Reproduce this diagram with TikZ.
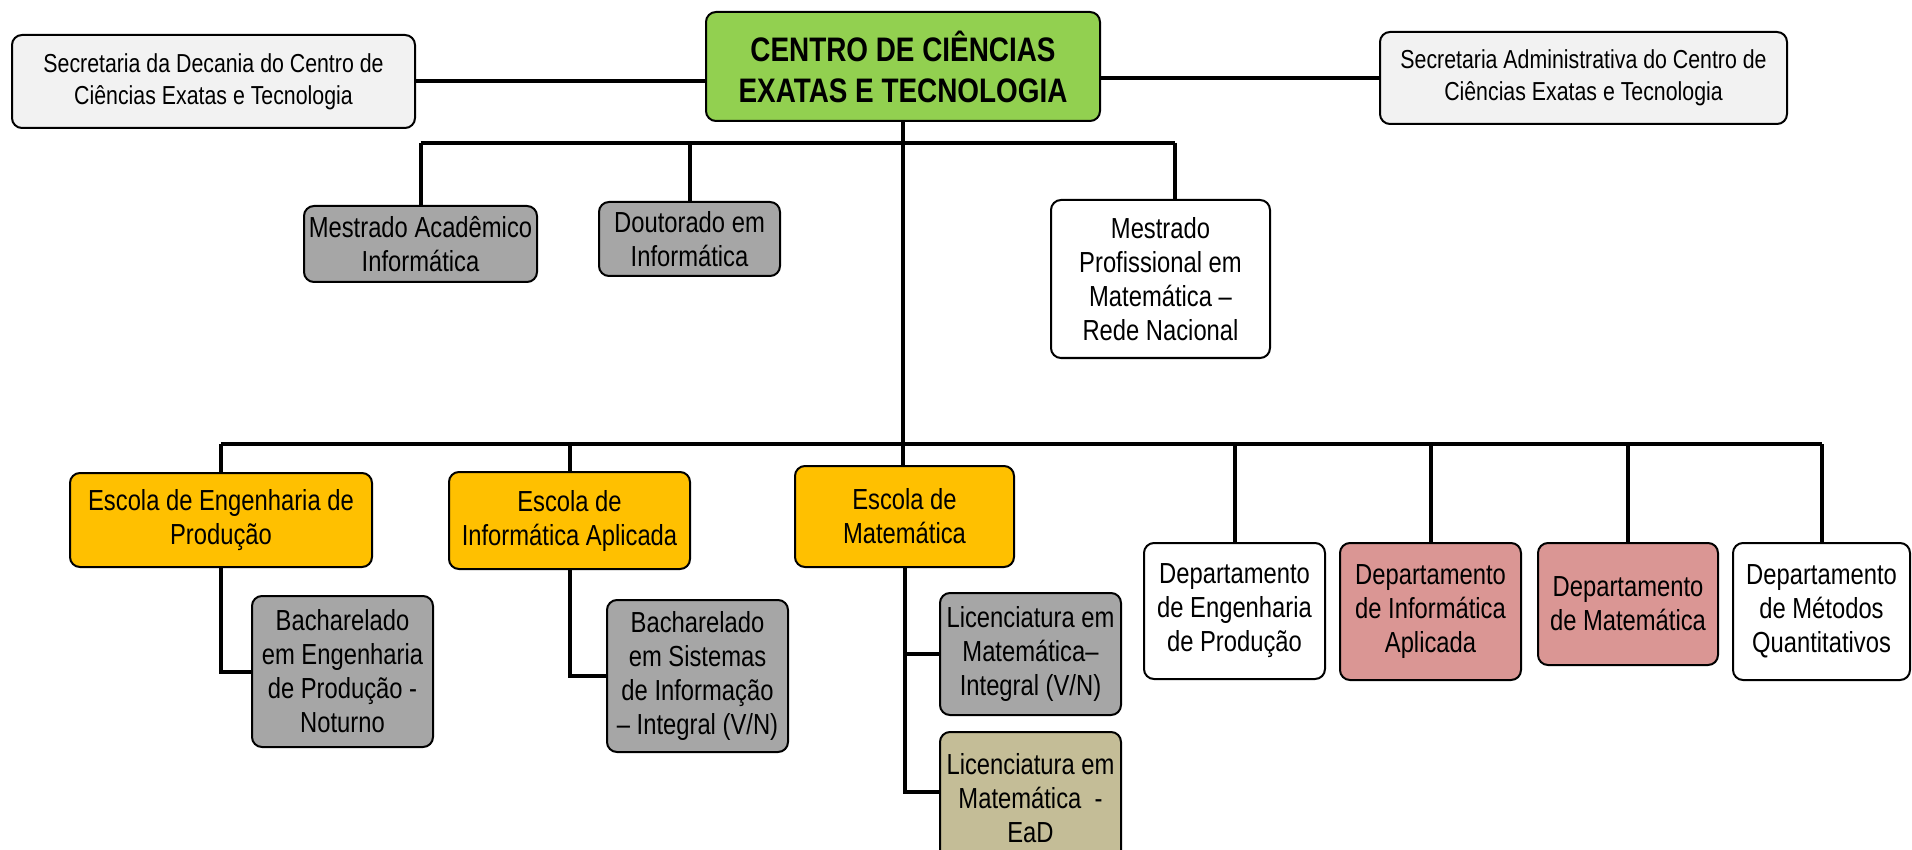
\documentclass[tikz,border=0pt]{standalone}
\usepackage{fontspec}
\setmainfont{Liberation Sans}[FakeStretch=0.82]
\definecolor{greenc}{HTML}{92D050}
\definecolor{goldc}{HTML}{FFC000}
\definecolor{grayc}{HTML}{A6A6A6}
\definecolor{lightc}{HTML}{F2F2F2}
\definecolor{pinkc}{HTML}{DA9694}
\definecolor{tanc}{HTML}{C4BD97}
\tikzset{
  box/.style={draw=black, line width=2pt, rounded corners=10pt, inner sep=0pt, align=center, text=black, font=\fontsize{29}{34}\selectfont},
  smallbox/.style={box, font=\fontsize{26}{32}\selectfont},
  conn/.style={line width=4pt, draw=black},
}
\begin{document}
\begin{tikzpicture}[x=1pt,y=-1pt]
\useasboundingbox (0,0) rectangle (1912,850);
\clip (0,0) rectangle (1912,850);
\fill[white] (0,0) rectangle (1912,850);
% top level
\node[smallbox, fill=lightc, minimum width=403pt, minimum height=93pt] (sec1) at (213.5,81.5) {Secretaria da Decania do Centro de\\Ciências Exatas e Tecnologia};
\node[box, fill=greenc, minimum width=394pt, minimum height=109pt, font=\fontsize{34}{41}\selectfont\bfseries] (ctr) at (903,66.5) {CENTRO DE CIÊNCIAS\\EXATAS E TECNOLOGIA};
\node[smallbox, fill=lightc, minimum width=407pt, minimum height=92pt] (sec2) at (1583.5,78) {Secretaria Administrativa do Centro de\\Ciências Exatas e Tecnologia};
% second level
\node[box, fill=grayc, minimum width=233pt, minimum height=76pt] (mac) at (420.5,244) {Mestrado Acadêmico\\Informática};
\node[box, fill=grayc, minimum width=181pt, minimum height=74pt] (dout) at (689.5,239) {Doutorado em\\Informática};
\node[box, fill=white, minimum width=219pt, minimum height=158pt] (mpro) at (1160.5,279) {Mestrado\\Profissional em\\Matemática –\\Rede Nacional};
% third level
\node[box, fill=goldc, minimum width=302pt, minimum height=94pt] (eep) at (221,520) {Escola de Engenharia de\\Produção};
\node[box, fill=grayc, minimum width=181pt, minimum height=151pt] (bep) at (342.5,671.5) {Bacharelado\\em Engenharia\\de Produção -\\Noturno};
\node[box, fill=goldc, minimum width=241pt, minimum height=97pt] (eia) at (569.5,520.5) {Escola de\\Informática Aplicada};
\node[box, fill=grayc, minimum width=181pt, minimum height=152pt] (bsi) at (697.5,676) {Bacharelado\\em Sistemas\\de Informação\\– Integral (V/N)};
\node[box, fill=goldc, minimum width=219pt, minimum height=101pt] (emat) at (904.5,516.5) {Escola de\\Matemática};
\node[box, fill=grayc, minimum width=181pt, minimum height=122pt] (lmi) at (1030.5,654) {Licenciatura em\\Matemática–\\Integral (V/N)};
\node[box, fill=tanc, minimum width=181pt, minimum height=132pt] (lmead) at (1030.5,798) {Licenciatura em\\Matemática~ -\\EaD};
\node[box, fill=white, minimum width=181pt, minimum height=136pt] (dep) at (1234.5,611) {Departamento\\de Engenharia\\de Produção};
\node[box, fill=pinkc, minimum width=181pt, minimum height=137pt] (dia) at (1430.5,611.5) {Departamento\\de Informática\\Aplicada};
\node[box, fill=pinkc, minimum width=180pt, minimum height=122pt] (dm) at (1628,604) {Departamento\\de Matemática};
\node[box, fill=white, minimum width=177pt, minimum height=137pt] (dmq) at (1821.5,611.5) {Departamento\\de Métodos\\Quantitativos};
% bus coordinates
\coordinate (busU) at (903,143);
\coordinate (mproTop) at (1175,143);
\coordinate (busL) at (903,444);
\coordinate (lmc) at (940,792);
% connectors
\draw[conn] (sec1.east) -- (sec1.east -| ctr.west);
\draw[conn] (sec2.west) -- (sec2.west -| ctr.east);
\draw[conn] (ctr.south) -- (ctr.south |- emat.north);
\draw[conn] (mac.north |- busU) -- (mproTop);
\draw[conn] (mac.north |- busU) -- (mac.north);
\draw[conn] (dout.north |- busU) -- (dout.north);
\draw[conn] (mproTop) -- (mproTop |- mpro.north);
\draw[conn] (eep.north |- busL) -- (dmq.north |- busL);
\draw[conn] (eep.north |- busL) -- (eep.north);
\draw[conn] (eia.north |- busL) -- (eia.north);
\draw[conn] (dep.north |- busL) -- (dep.north);
\draw[conn] (dia.north |- busL) -- (dia.north);
\draw[conn] (dm.north |- busL) -- (dm.north);
\draw[conn] (dmq.north |- busL) -- (dmq.north);
\draw[conn] (eep.south) |- (bep.west);
\draw[conn] (eia.south) |- (bsi.west);
\draw[conn] (emat.south) |- (lmi.west);
\draw[conn] (emat.south) |- (lmc);
\end{tikzpicture}
\end{document}
